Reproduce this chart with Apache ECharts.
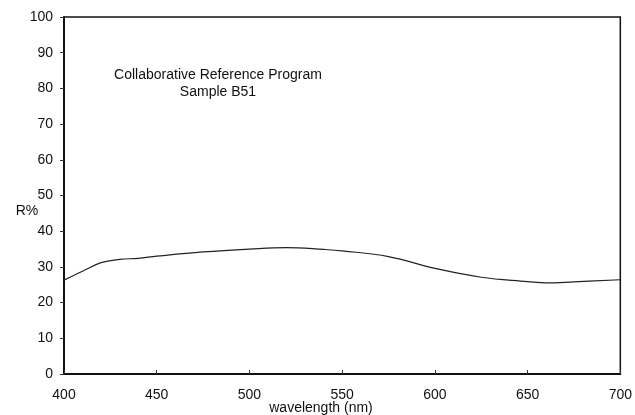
<!DOCTYPE html>
<html>
<head>
<meta charset="utf-8">
<script src="https://cdn.jsdelivr.net/npm/echarts@6/dist/echarts.min.js"></script>
<style>html,body{margin:0;padding:0;background:#fff;}#c{width:635px;height:415px;}</style>
</head>
<body>
<div id="c"></div>
<script>
const wavelength = [400, 410, 420, 430, 440, 450, 475, 500, 520, 540, 550, 575, 600, 625, 650, 660, 675, 700];
const reflectance = [26.3, 28.8, 31.2, 32.1, 32.4, 33.0, 34.2, 35.0, 35.4, 34.9, 34.5, 32.9, 29.6, 27.1, 25.9, 25.5, 25.8, 26.4];
const xTicks = [400, 450, 500, 550, 600, 650, 700];
const yTicks = [0, 10, 20, 30, 40, 50, 60, 70, 80, 90, 100];
const titleLines = ['Collaborative Reference Program', 'Sample B51'];
const yName = 'R%';
const xName = 'wavelength (nm)';

const font = '"Liberation Sans", Arial, sans-serif';
const chart = echarts.init(document.getElementById('c'));
function txt(s, x, y) {
  return { type: 'text', x: x, y: y, style: { text: s, font: '14px ' + font, fill: '#111', align: 'center', verticalAlign: 'middle' } };
}
chart.setOption({
  animation: false,
  backgroundColor: '#fff',
  grid: { left: 64, right: 12, top: 17, bottom: 41, show: true, borderColor: '#111', borderWidth: 1.5 },
  xAxis: {
    type: 'value', min: xTicks[0], max: xTicks[xTicks.length - 1], interval: 50,
    axisLine: { lineStyle: { color: '#111', width: 2 } },
    axisTick: { inside: true, length: 4, lineStyle: { color: '#333' } },
    axisLabel: { color: '#111', fontFamily: font, fontSize: 14, margin: 14 },
    splitLine: { show: false }
  },
  yAxis: {
    type: 'value', min: yTicks[0], max: yTicks[yTicks.length - 1], interval: 10,
    axisLine: { show: true, lineStyle: { color: '#111', width: 2 } },
    axisTick: { show: true, length: 4, lineStyle: { color: '#333' } },
    axisLabel: { color: '#111', fontFamily: font, fontSize: 14, margin: 11 },
    splitLine: { show: false }
  },
  graphic: [
    txt(titleLines[0], 218, 75),
    txt(titleLines[1], 218, 92),
    txt(yName, 27, 211),
    txt(xName, 321, 408)
  ],
  series: [{
    type: 'line',
    data: wavelength.map((w, i) => [w, reflectance[i]]),
    smooth: 0.4,
    showSymbol: false,
    lineStyle: { color: '#222', width: 1.2 }
  }]
});
</script>
</body>
</html>
